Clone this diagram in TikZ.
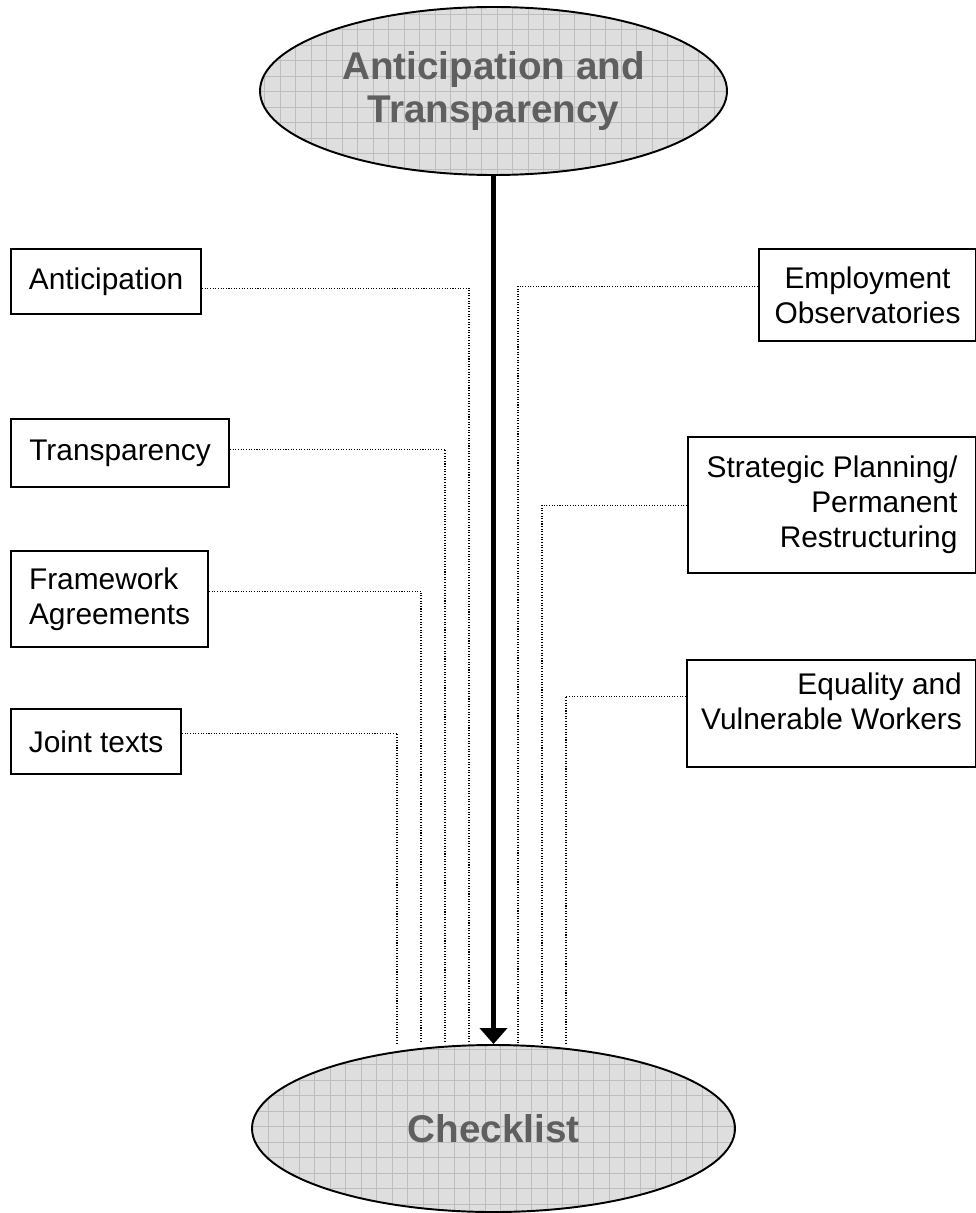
\documentclass[tikz,border=0pt]{standalone}
\usepackage{fontspec}
\setmainfont{Liberation Sans}
\usetikzlibrary{shapes.geometric,arrows.meta}
\newcommand{\pxu}{0.02cm}
\definecolor{ovalfill}{HTML}{DEDEDE}
\definecolor{ovalgrid}{HTML}{BDBDBD}
\definecolor{ovaltext}{HTML}{5F5F5F}

\begin{document}
\begin{tikzpicture}[
    x=\pxu, y=-\pxu,
    box/.style={draw,line width=1.2pt,inner sep=2pt,anchor=north west,font=\fontsize{17}{19.9}\selectfont},
    oval/.style={ellipse,draw,line width=1.1pt,fill=ovalfill,inner sep=0pt,
        font=\fontsize{22}{24.5}\selectfont\bfseries,text=ovaltext,align=center,
        path picture={\draw[ovalgrid,line width=0.4pt,step=0.31cm]
            (path picture bounding box.south west) grid (path picture bounding box.north east);}},
    link/.style={line width=0.6pt,dash pattern=on 0.6pt off 0.9pt},
    >=Latex,
]
    \useasboundingbox (0,0) rectangle (976,1213);

    \node[oval,minimum width={467*\pxu},minimum height={168*\pxu}] (top) at (493.5,91) {Anticipation and\\Transparency};
    \node[oval,minimum width={483*\pxu},minimum height={167*\pxu}] (chk) at (493.5,1128.5) {Checklist};

    % left column
    \node[box,minimum width={190*\pxu},minimum height={65*\pxu}] (antic) at (10,248) {Anticipation};
    \node[box,minimum width={218*\pxu},minimum height={68*\pxu}] (transp) at (10,418) {Transparency};
    \node[box,minimum width={197*\pxu},minimum height={96*\pxu},align=left] (frame) at (10,550) {Framework\\Agreements};
    \node[box,minimum width={170*\pxu},minimum height={65*\pxu}] (joint) at (10,708) {Joint texts};

    % right column
    \node[box,minimum width={217*\pxu},minimum height={92*\pxu},align=center] (emp) at (758,248) {Employment\\Observatories};
    \node[box,minimum width={288*\pxu},minimum height={136*\pxu},align=right] (strat) at (687,436) {Strategic Planning/\\Permanent\\Restructuring};
    \node[box,minimum width={289*\pxu},minimum height={107*\pxu},align=right,text depth=0.49cm] (equal) at (686,659) {Equality and\\Vulnerable Workers};

    \coordinate (jointend) at (397,1043);
    \coordinate (frameend) at (421,1043);
    \coordinate (transpend) at (445,1043);
    \coordinate (anticend) at (469,1043);
    \coordinate (empend) at (518,1043);
    \coordinate (stratend) at (542,1043);
    \coordinate (equalend) at (566,1043);

    \draw[link] ([yshift=-0.13cm]antic.east) -| (anticend);
    \draw[link] ([yshift=0.08cm]transp.east) -| (transpend);
    \draw[link] ([yshift=0.16cm]frame.east) -| (frameend);
    \draw[link] ([yshift=0.17cm]joint.east) -| (jointend);
    \draw[link] ([yshift=0.18cm]emp.west) -| (empend);
    \draw[link] (strat.west) -| (stratend);
    \draw[link] ([yshift=0.35cm]equal.west) -| (equalend);

    \draw[line width=2.8pt,-{Triangle[width=0.54cm,length=0.32cm]}] (top.south) -- (chk.north);
\end{tikzpicture}
\end{document}
